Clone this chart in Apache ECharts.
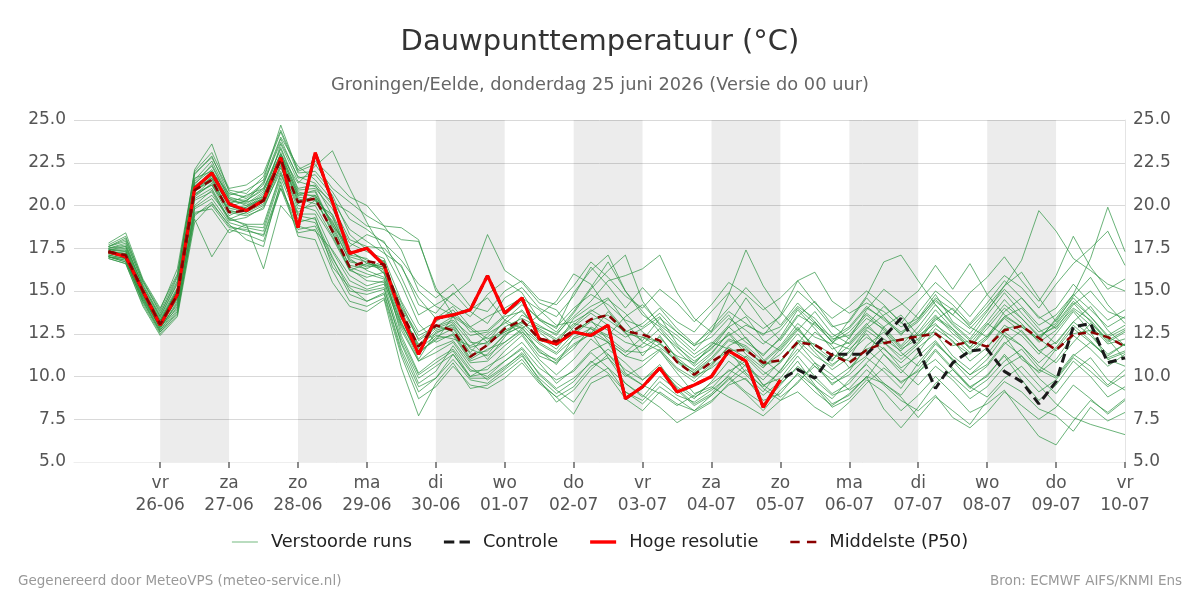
<!DOCTYPE html>
<html>
<head>
<meta charset="utf-8">
<title>Dauwpunttemperatuur</title>
<script src="https://cdn.jsdelivr.net/npm/echarts@6/dist/echarts.min.js"></script>
<style>
  html, body { margin: 0; padding: 0; background: #fff; }
  #chart { width: 1200px; height: 600px; }
</style>
</head>
<body>
<div id="chart"></div>
<script>
// tijdas: 6-uurlijks vanaf 24-06 18:00 t/m 10-07 00:00, runs beginnen op 25-06 06:00
const dagNamen = ['vr', 'za', 'zo', 'ma', 'di', 'wo', 'do', 'vr', 'za', 'zo', 'ma', 'di', 'wo', 'do', 'vr'];
const dagDatums = ['26-06', '27-06', '28-06', '29-06', '30-06', '01-07', '02-07', '03-07', '04-07', '05-07', '06-07', '07-07', '08-07', '09-07', '10-07'];

// Hoge resolutie (loopt tot 05-07 00 uur)
const hogeResolutie = [17.3, 17.0, 15.0,
  13.0, 14.8, 21.0, 21.9, 20.1, 19.7, 20.3, 22.8, 18.7, 23.1, 20.2, 17.2,
  17.5, 16.5, 13.6, 11.3, 13.4, 13.6, 13.9, 15.9, 13.7, 14.6, 12.2, 11.9,
  12.6, 12.4, 13.0, 8.7, 9.4, 10.5, 9.1, 9.5, 10.0, 11.5, 10.9, 8.2,
  9.8];

// Controle
const controle = [17.3, 17.0, 15.0,
  13.0, 14.8, 21.0, 21.9, 20.1, 19.7, 20.3, 22.8, 18.7, 23.1, 20.2, 17.2,
  17.5, 16.5, 13.6, 11.3, 13.4, 13.6, 13.9, 15.9, 13.7, 14.6, 12.2, 11.9,
  12.6, 12.4, 13.0, 8.7, 9.4, 10.5, 9.1, 9.5, 10.0, 11.5, 10.9, 8.2,
  9.8, 10.4, 9.9, 11.3, 11.3, 11.3, 12.3, 13.4, 11.6, 9.3, 10.8, 11.5,
  11.6, 10.3, 9.7, 8.4, 9.7, 12.9, 13.1, 10.8,
  11.1];

// Middelste (P50)
const middelste = [17.3, 17.1, 15.0,
  13.05, 14.8, 20.9, 21.5, 19.6, 19.7, 20.3, 22.7, 20.2, 20.4, 18.5, 16.4,
  16.75, 16.55, 13.8, 11.75, 13.0, 12.7, 11.15, 11.85, 12.8, 13.3, 12.2, 12.05,
  12.7, 13.35, 13.6, 12.65, 12.45, 12.1, 10.85, 10.1, 10.85, 11.5, 11.55, 10.8,
  10.95, 12.0, 11.85, 11.25, 10.8, 11.55, 11.95, 12.15, 12.35, 12.5, 11.8, 12.05,
  11.75, 12.7, 12.95, 12.25, 11.55, 12.45, 12.6, 12.3,
  11.75];

// Verstoorde runs
const verstoordeRuns = [
  [17.5,17.8,15.2, 13.4,15.2,21.3,22.1, 20.3,20.1,20.8,23.4, 21.0,21.2,19.4,17.1, 16.9,16.0,13.2,11.0, 12.6,12.9,11.4,12.5, 13.1,13.9,12.6,11.8, 13.4,14.1,14.6,13.2, 12.0,11.5,10.4,9.7, 10.6,11.8,12.3,11.0, 10.2,11.4,12.6,11.8, 10.5,11.2,12.9,13.6, 12.4,13.1,12.0,11.3, 12.2,13.5,14.0,12.8, 11.9,13.2,14.1,12.7, 11.8],
  [17.8,18.4,15.7, 14.0,16.0,21.8,22.9, 20.6,20.9,21.5,24.7, 22.0,22.4,21.0,20.2, 19.4,18.8,18.7,18.0, 15.0,14.2,13.5,14.8, 15.6,14.9,13.3,12.6, 13.8,15.2,16.7,15.0, 13.6,12.9,11.8,10.7, 11.9,13.0,14.6,13.2, 12.1,13.5,14.4,13.0, 12.2,13.9,15.1,14.3, 13.4,14.8,13.2,12.5, 13.8,15.3,16.1,14.6, 13.2,14.7,15.8,14.2, 13.1],
  [17.0,16.8,14.3, 12.6,13.8,19.2,17.0, 18.6,18.3,17.9,21.0, 19.0,19.3,16.4,15.2, 14.4,14.9,11.6,9.4, 9.9,11.3,10.0,10.6, 11.2,12.0,10.8,9.6, 10.4,11.5,12.0,10.2, 9.5,9.0,8.3,8.9, 9.6,10.3,10.9,9.5, 8.8,9.6,10.8,10.1, 9.2,9.9,11.3,10.4, 9.5,10.6,9.8,8.7, 9.4,10.6,11.2,9.9, 9.0,10.3,11.1,9.8, 9.2],
  [17.3,17.0,14.8, 13.0,14.6,20.6,21.2, 19.4,19.9,20.6,22.9, 20.6,20.9,18.8,17.6, 18.3,17.9,15.8,13.6, 14.2,14.8,15.6,18.3, 16.2,15.5,14.3,13.9, 12.6,13.3,12.1,11.4, 12.3,11.7,10.9,10.4, 11.3,12.6,11.5,10.8, 11.7,12.9,11.6,10.9, 12.3,13.4,12.8,11.7, 12.6,13.9,12.8,11.9, 13.1,12.4,11.0,10.3, 11.6,12.8,12.0,11.2, 11.9],
  [17.6,18.0,15.4, 13.6,15.8,22.1,23.6, 20.8,20.4,21.2,23.9, 21.6,21.8,20.6,18.3, 17.4,16.7,14.0,12.2, 12.9,13.5,12.1,11.0, 12.3,13.6,13.0,12.4, 13.7,15.1,16.2,17.1, 14.4,13.0,12.2,11.3, 12.0,11.6,10.2,9.4, 10.3,11.9,13.2,12.0, 11.6,12.5,11.3,10.2, 11.4,12.8,12.1,10.9, 11.7,13.0,12.4,11.3, 12.5,13.8,12.6,11.0, 10.6],
  [17.2,17.3,14.9, 13.2,14.9,20.8,21.7, 20.1,20.6,21.0,23.0, 21.3,22.3,23.2,21.0, 19.0,17.3,15.4,13.1, 12.0,12.5,11.0,11.6, 12.0,12.7,11.4,11.0, 11.9,12.5,13.8,12.6, 11.2,12.4,11.0,10.0, 10.5,11.3,10.6,9.8, 10.9,12.0,10.8,9.5, 10.3,11.8,12.6,11.4, 10.6,11.9,11.0,10.1, 11.0,12.4,11.8,10.6, 10.0,11.3,10.6,9.5, 10.4],
  [17.0,16.9,14.5, 12.9,14.2,19.6,19.8, 18.4,18.9,16.3,20.0, 18.8,18.5,17.4,15.9, 15.3,15.6,12.7,10.9, 11.4,12.0,10.6,9.8, 10.5,11.4,10.2,9.3, 9.9,10.8,11.6,10.8, 9.8,10.7,9.3,8.4, 9.0,10.1,11.2,10.3, 9.6,10.5,9.4,8.7, 9.8,10.7,9.6,8.9, 10.2,11.5,10.4,9.3, 10.1,11.2,9.8,8.6, 9.5,10.9,10.0,8.8, 9.4],
  [17.4,17.6,15.3, 13.5,15.5,21.5,22.6, 20.5,20.2,21.4,24.0, 22.3,21.5,20.3,18.6, 17.9,17.2,16.5,14.2, 13.7,14.9,13.8,13.1, 14.6,15.2,14.0,13.5, 14.7,16.4,15.3,14.0, 15.2,14.1,13.2,12.6, 13.8,14.9,13.6,12.8, 13.5,15.0,14.1,12.9, 13.2,14.6,13.5,12.4, 13.7,15.0,14.2,13.1, 14.3,15.6,14.6,13.4, 14.0,15.4,14.3,13.3, 13.9],
  [16.9,16.6,14.1, 12.4,13.5,19.0,20.1, 18.9,18.0,17.6,21.4, 18.2,18.0,15.5,14.1, 13.8,14.5,10.5,7.7, 9.6,10.8,9.3,9.5, 10.2,11.0,9.7,8.8, 9.4,10.6,11.1,9.6, 8.8,10.0,9.2,8.3, 8.9,9.8,10.7,9.5, 9.9,11.2,10.0,9.0, 9.6,10.8,11.7,10.5, 11.2,12.1,10.9,9.8, 10.6,11.9,12.7,11.5, 10.8,12.0,13.1,12.2, 11.0],
  [17.3,17.4,15.0, 13.1,14.7,20.7,21.2, 19.7,19.5,20.0,22.4, 20.1,20.6,18.9,16.7, 16.5,16.3,14.3,12.1, 12.8,13.2,12.0,11.9, 12.6,13.2,12.3,11.6, 12.9,13.7,13.0,12.3, 12.8,13.5,11.9,11.1, 11.8,12.9,12.0,11.3, 12.2,13.6,13.0,12.1, 12.8,14.0,13.4,12.6, 13.3,14.6,13.9,13.0, 14.1,15.3,16.8,19.7, 18.5,16.9,16.2,15.4, 15.0],
  [17.1,17.2,14.7, 12.8,14.4,20.3,20.8, 19.1,19.3,19.9,22.0, 19.6,20.3,19.1,16.9, 16.2,15.8,13.0,11.4, 12.2,12.4,10.9,11.3, 12.5,12.9,11.5,10.7, 12.3,12.8,12.3,11.5, 11.4,11.9,10.8,10.2, 11.0,12.1,11.7,10.6, 11.3,12.5,11.4,10.4, 11.1,12.7,12.0,11.2, 12.0,13.4,12.7,11.6, 12.4,13.5,12.9,12.1, 13.4,14.8,16.9,19.9, 17.3],
  [17.6,17.9,15.5, 13.8,15.9,21.9,22.8, 20.9,20.7,21.7,24.3, 21.9,22.0,20.8,19.2, 18.6,17.8,16.8,15.4, 14.6,15.4,14.1,13.8, 15.0,15.6,14.5,14.2, 15.3,16.7,15.8,14.7, 14.0,15.1,14.3,13.2, 14.2,15.5,14.8,13.9, 14.6,15.6,14.3,13.4, 14.1,15.0,14.2,13.1, 14.4,15.5,14.6,13.5, 14.8,15.9,15.2,14.0, 15.4,16.6,17.5,18.5, 16.5],
  [17.0,16.7,14.4, 12.7,13.9,19.8,20.4, 19.0,18.7,18.5,21.6, 19.2,19.0,16.9,15.3, 15.0,15.2,11.9,9.6, 10.3,11.8,10.4,10.0, 10.9,11.6,10.1,9.2, 8.5,9.9,10.5,9.1, 8.4,9.4,8.7,8.0, 8.6,9.5,9.9,8.6, 9.0,10.2,9.4,8.2, 8.7,9.8,9.1,8.0, 8.9,10.0,9.0,7.9, 8.4,9.2,7.8,6.5, 6.0,7.4,8.6,7.9, 8.7],
  [17.2,17.1,14.8, 13.0,14.5,20.5,21.3, 19.6,19.4,19.8,22.2, 20.0,19.7,18.1,16.2, 15.8,16.1,12.4,10.2, 11.0,11.6,10.3,10.4, 11.5,12.4,11.0,10.1, 11.0,12.2,11.3,10.4, 9.8,10.5,9.6,8.8, 9.3,10.4,9.8,8.9, 9.7,10.9,9.5,8.4, 8.9,10.0,8.1,7.0, 8.2,9.6,10.4,9.4, 8.8,9.9,10.6,9.5, 8.4,7.6,7.2,6.9, 6.6],
  [17.5,17.6,15.1, 13.3,15.1,21.2,22.4, 20.4,20.0,20.4,23.6, 21.4,21.1,20.2,19.6, 18.8,18.6,18.0,17.9, 15.2,13.6,13.9,14.6, 13.3,12.8,13.6,14.4, 16.0,15.4,13.9,12.7, 12.1,13.4,12.6,11.8, 12.9,14.0,15.2,14.1, 13.0,14.3,13.2,12.0, 12.6,13.7,12.9,11.8, 12.9,14.2,13.1,12.2, 13.6,14.9,13.7,12.6, 13.1,14.4,13.5,12.3, 12.8],
  [17.3,17.2,14.9, 13.1,14.8,20.9,21.8, 19.9,20.3,20.9,22.6, 20.4,20.1,19.5,17.4, 16.6,16.4,13.9,11.6, 12.4,12.2,11.8,12.3, 13.2,12.5,11.2,10.8, 11.6,12.9,12.4,13.5, 14.2,13.1,12.4,11.5, 12.6,14.8,17.4,15.3, 13.8,12.7,11.8,11.0, 11.8,12.9,12.2,11.5, 12.5,13.6,12.5,11.7, 12.8,14.0,13.1,12.0, 12.7,13.9,13.0,11.9, 12.2],
  [17.1,16.9,14.6, 12.9,14.0,19.9,20.6, 19.3,18.8,18.7,21.8, 19.5,19.5,17.3,15.6, 15.1,15.4,12.2,10.1, 10.8,11.5,10.0,10.2, 10.9,11.7,10.5,9.8, 10.3,11.4,10.5,9.6, 8.9,8.2,7.3,7.9, 8.5,9.6,10.4,9.3, 8.6,9.7,10.6,9.8, 10.5,11.6,10.7,9.6, 10.4,11.6,10.5,9.4, 10.0,11.3,10.2,9.1, 9.8,11.1,10.3,9.4, 10.1],
  [17.4,17.3,15.0, 13.2,15.0,21.0,21.9, 20.0,19.8,20.5,23.0, 20.8,20.5,18.4,16.5, 16.3,16.8,13.6,11.9, 12.5,13.1,11.6,11.2, 12.0,12.8,11.9,11.3, 12.2,12.6,11.1,10.0, 10.6,11.5,10.2,9.0, 9.4,8.8,8.3,7.7, 8.6,9.1,8.2,7.6, 8.5,9.6,10.5,9.7, 10.3,11.0,10.0,9.1, 9.8,10.9,11.6,10.4, 9.9,11.2,12.0,11.1, 11.5],
  [17.2,17.0,14.7, 12.9,14.6,20.6,21.5, 19.8,20.0,20.7,22.5, 20.3,20.4,19.3,17.0, 16.7,16.1,13.4,11.5, 12.1,13.5,12.8,12.0, 13.3,14.2,13.4,12.8, 14.9,16.2,17.1,15.0, 13.8,12.6,11.7,10.9, 11.6,12.9,13.5,12.1, 11.5,12.7,13.8,12.5, 11.9,13.0,14.1,13.2, 12.1,13.3,14.0,12.9, 12.3,13.8,14.6,13.5, 12.8,14.2,15.0,13.8, 13.4],
  [17.4,17.5,15.1, 13.3,15.0,21.1,22.0, 20.2,20.2,20.5,23.1, 20.7,20.8,18.7,16.8, 16.4,16.6,13.5,11.7, 12.7,13.0,11.7,12.0, 12.9,13.4,12.9,12.5, 13.5,14.4,15.6,15.9, 16.3,17.1,14.9,13.4, 12.6,13.6,12.2,11.2, 12.3,13.9,12.8,11.6, 12.0,13.1,12.0,11.0, 11.9,13.0,12.3,11.4, 12.3,13.4,12.6,11.5, 12.0,13.2,12.4,11.3, 11.9],
  [17.3,17.1,14.8, 13.0,14.7,20.8,21.6, 19.6,19.7,20.2,22.7, 20.5,20.3,18.6,16.4, 16.0,15.7,13.1,11.3, 12.3,12.8,11.3,11.5, 12.4,13.0,12.0,11.4, 12.5,13.2,12.7,12.0, 11.7,12.3,11.1,10.3, 11.1,12.2,11.8,10.9, 11.8,13.1,12.3,11.9, 13.3,14.7,16.7,17.1, 15.6,14.2,13.0,12.1, 13.2,14.5,13.4,12.3, 13.0,14.3,13.2,12.0, 12.6],
  [17.1,16.9,14.6, 12.8,14.3,20.4,21.0, 19.2,19.6,20.1,22.3, 19.8,20.0,18.2,16.3, 15.6,15.5,12.9,10.9, 11.7,12.1,10.8,10.9, 11.8,12.6,11.6,10.9, 11.8,12.5,12.0,11.2, 10.9,11.6,10.5,9.9, 10.7,11.7,11.1,10.1, 10.8,12.1,11.2,10.6, 11.5,12.8,13.6,14.2, 15.0,16.5,15.1,16.6, 14.8,13.6,12.9,12.2, 13.3,14.6,13.5,12.4, 13.0],
  [17.5,17.7,15.3, 13.5,15.4,21.4,22.3, 20.4,20.3,21.0,23.3, 20.9,21.0,19.8,17.8, 17.3,16.9,14.4,12.6, 13.2,13.9,12.6,12.7, 13.6,14.4,13.3,12.9, 14.0,14.8,14.2,13.3, 12.9,13.7,12.6,11.8, 12.3,13.4,12.7,11.9, 12.7,14.0,13.1,12.3, 12.9,14.1,13.3,12.5, 13.2,14.4,13.6,14.9, 15.8,17.0,15.6,14.4, 15.9,18.2,16.4,15.1, 15.7],
  [16.9,16.6,14.2, 12.5,13.6,19.4,20.2, 18.8,18.5,18.3,21.2, 18.6,18.8,16.7,14.8, 14.4,14.8,11.4,9.1, 9.9,11.0,9.8,9.6, 10.4,11.2,9.9,9.0, 9.7,10.9,10.2,9.1, 8.6,9.7,8.9,8.5, 9.2,10.0,9.1,8.4, 9.5,10.6,9.8,8.9, 9.3,10.4,9.5,8.6, 8.0,8.9,7.6,7.0, 7.9,9.1,8.3,7.5, 8.2,9.5,8.7,7.8, 8.6],
  [17.3,17.1,14.9, 13.1,14.8,20.9,21.4, 19.7,19.9,20.4,22.8, 20.2,20.4,18.4,16.2, 16.6,16.4,13.7,11.8, 13.0,12.6,11.1,11.8, 12.7,13.2,12.1,11.9, 12.6,13.3,13.6,12.5, 12.3,12.0,10.9,10.2, 10.8,11.5,11.6,10.7, 10.9,12.1,11.9,11.3, 10.9,11.6,12.0,12.2, 12.4,12.6,11.8,12.1, 11.7,12.8,13.0,12.2, 11.5,12.5,12.7,12.3, 11.8],
  [17.6,18.1,15.6, 13.7,15.6,21.6,22.0, 20.7,20.5,21.3,23.7, 21.7,21.3,20.0,18.0, 17.6,17.5,16.4,14.6, 13.4,14.1,12.9,12.2, 12.6,13.1,12.8,12.2, 13.1,12.8,12.0,11.2, 11.9,12.8,11.5,10.6, 11.4,12.5,11.3,10.5, 11.6,12.8,11.6,10.7, 11.4,12.3,11.6,10.8, 11.7,12.5,11.2,10.4, 11.3,12.6,11.8,10.8, 11.7,13.0,12.1,11.0, 11.4],
  [17.0,16.7,14.4, 12.6,13.7,19.5,20.0, 18.7,18.6,18.2,21.0, 18.4,18.6,16.2,14.4, 14.1,14.6,11.2,8.7, 9.4,10.6,9.5,9.3, 9.9,10.8,9.6,8.8, 7.8,9.6,10.1,8.7, 8.0,9.1,8.4,8.0, 8.9,9.9,9.0,8.0, 9.2,10.1,9.1,8.3, 9.0,10.0,9.6,8.8, 7.6,8.8,8.0,7.2, 8.6,9.7,9.1,8.1, 7.7,6.8,8.2,7.4, 7.9],
  [17.4,17.4,15.0, 13.2,15.1,21.0,21.6, 20.0,19.6,20.3,22.9, 20.6,20.6,19.0,17.3, 16.8,16.2,14.1,12.4, 12.9,13.3,12.4,12.6, 13.5,13.8,12.7,12.1, 13.0,13.9,13.3,12.6, 13.1,14.0,12.8,11.9, 12.7,13.8,13.1,12.4, 13.6,15.6,16.1,14.4, 13.7,14.3,13.8,12.9, 13.4,14.5,13.6,12.8, 13.9,15.1,14.1,13.0, 13.6,14.8,13.9,12.9, 13.5],
  [17.7,18.2,15.6, 13.9,16.3,22.0,23.1, 21.0,21.2,21.9,24.4, 22.1,22.6,21.6,20.5, 20.0,18.8,17.4,15.0, 14.1,13.6,12.9,13.5, 14.0,14.6,13.9,13.0, 13.2,13.8,14.5,13.7, 12.6,11.9,11.2,10.8, 11.7,12.4,13.0,12.5, 12.9,14.1,13.4,12.2, 12.4,13.6,12.7,11.6, 12.2,13.5,12.8,11.7, 13.0,14.2,13.4,12.4, 12.9,14.0,13.3,12.1, 12.7],
  [17.0,16.8,14.5, 12.7,14.1,20.0,20.9, 19.2,18.9,18.9,21.9, 19.4,19.2,17.0,15.0, 14.8,15.1,12.0,9.9, 10.6,11.3,9.9,9.9, 10.6,11.3,9.8,8.5, 9.2,10.4,11.3,10.1, 9.5,10.4,9.4,8.7, 9.7,10.9,10.1,9.1, 10.4,11.6,10.6,9.6, 10.1,11.1,10.3,9.3, 10.8,12.0,11.0,10.1, 10.7,12.0,11.2,10.2, 11.0,12.4,11.6,10.6, 11.3]
];

// categorieen opbouwen (6 uur stappen)
const categorieen = [];
const start = Date.UTC(2026, 5, 24, 18);
for (let i = 0; i < 62; i++) {
  const d = new Date(start + i * 6 * 3600 * 1000);
  const dd = String(d.getUTCDate()).padStart(2, '0');
  const mm = String(d.getUTCMonth() + 1).padStart(2, '0');
  const hh = String(d.getUTCHours()).padStart(2, '0');
  categorieen.push(dd + '-' + mm + ' ' + hh);
}
const eersteDag = 5; // index van 26-06 00 uur
const isDagGrens = idx => idx >= eersteDag && (idx - eersteDag) % 4 === 0;
const opAs = arr => [null, null].concat(arr);

// grijze banden om de dag
const banden = [];
for (let k = 0; k < 14; k += 2) {
  banden.push([{ xAxis: categorieen[eersteDag + 4 * k] }, { xAxis: categorieen[eersteDag + 4 * (k + 1)] }]);
}

const fontFam = 'DejaVu Sans';
const series = [{
  name: 'banden',
  type: 'line',
  data: [],
  silent: true,
  markArea: {
    silent: true,
    itemStyle: { color: 'rgba(0,0,0,0.075)' },
    data: banden
  }
}];

verstoordeRuns.forEach(run => {
  series.push({
    name: 'Verstoorde runs',
    type: 'line',
    data: opAs(run),
    symbol: 'none',
    silent: true,
    z: 2,
    color: '#2b9340',
    lineStyle: { width: 1, color: '#2b9340', opacity: 0.7 }
  });
});

series.push({
  name: 'Controle',
  type: 'line',
  data: opAs(controle),
  symbol: 'none',
  z: 3,
  color: '#1a1a1a',
  lineStyle: { width: 3, color: '#1a1a1a', type: [9, 5] }
});
series.push({
  name: 'Hoge resolutie',
  type: 'line',
  data: opAs(hogeResolutie),
  symbol: 'none',
  z: 4,
  color: '#ff0000',
  lineStyle: { width: 3.2, color: '#ff0000' }
});
series.push({
  name: 'Middelste (P50)',
  type: 'line',
  data: opAs(middelste),
  symbol: 'none',
  z: 5,
  color: '#8b0000',
  lineStyle: { width: 2.5, color: '#8b0000', type: [8, 5] }
});

const yAs = (pos) => ({
  type: 'value',
  position: pos,
  min: 5,
  max: 25,
  interval: 2.5,
  axisLabel: {
    color: '#555',
    fontSize: 17,
    fontFamily: fontFam,
    margin: 8,
    padding: [4, 0, 0, 0],
    formatter: v => v.toFixed(1)
  },
  axisLine: { show: pos === 'right', lineStyle: { color: '#e4e4e4' } },
  axisTick: { show: false },
  splitLine: { show: pos === 'left', lineStyle: { color: '#d9d9d9', width: 1 } }
});

const legendTekst = { fontSize: 17.8, color: '#222', fontFamily: fontFam, padding: [0, 0, 0, 8] };

const chart = echarts.init(document.getElementById('chart'), null, { renderer: 'canvas' });
chart.setOption({
  animation: false,
  backgroundColor: '#fff',
  title: [{
    text: 'Dauwpunttemperatuur (°C)',
    left: 'center',
    top: 23,
    textStyle: { fontSize: 29, fontWeight: 'normal', color: '#333', fontFamily: fontFam }
  }, {
    text: 'Groningen/Eelde, donderdag 25 juni 2026 (Versie do 00 uur)',
    left: 'center',
    top: 71,
    textStyle: { fontSize: 17.8, fontWeight: 'normal', color: '#666', fontFamily: fontFam }
  }, {
    text: 'Gegenereerd door MeteoVPS (meteo-service.nl)',
    left: 13,
    top: 569,
    textStyle: { fontSize: 13.5, fontWeight: 'normal', color: '#999', fontFamily: fontFam }
  }, {
    text: 'Bron: ECMWF AIFS/KNMI Ens',
    right: 13,
    top: 569,
    textStyle: { fontSize: 13.5, fontWeight: 'normal', color: '#999', fontFamily: fontFam }
  }],
  legend: {
    data: [
      { name: 'Verstoorde runs', icon: 'path://M0,0h26v1.1h-26z', itemStyle: { color: '#80c08a' } },
      { name: 'Controle', icon: 'path://M0,0h10v3h-10zM15,0h10v3h-10z', itemStyle: { color: '#1a1a1a' } },
      { name: 'Hoge resolutie', icon: 'path://M0,0h26v3.4h-26z', itemStyle: { color: '#ff0000' } },
      { name: 'Middelste (P50)', icon: 'path://M0,0h9v2.6h-9zM16,0h9v2.6h-9z', itemStyle: { color: '#8b0000' } }
    ],
    top: 528,
    left: 'center',
    itemWidth: 26,
    itemHeight: 14,
    itemGap: 32,
    textStyle: legendTekst
  },
  grid: { left: 74, right: 75, top: 120, bottom: 138 },
  xAxis: {
    type: 'category',
    data: categorieen,
    boundaryGap: false,
    axisLine: { show: true, lineStyle: { color: '#eeeeee' } },
    axisTick: { show: true, interval: isDagGrens, length: 6, lineStyle: { color: '#666', width: 1.5 } },
    splitLine: { show: false },
    axisLabel: {
      interval: isDagGrens,
      color: '#555',
      fontSize: 17,
      fontFamily: fontFam,
      lineHeight: 22,
      margin: 11,
      formatter: (val, idx) => {
        if (!isDagGrens(idx)) return '';
        const k = (idx - eersteDag) / 4;
        return dagNamen[k] + '\n' + dagDatums[k];
      }
    }
  },
  yAxis: [yAs('left'), yAs('right')],
  series: series
});
</script>
</body>
</html>
